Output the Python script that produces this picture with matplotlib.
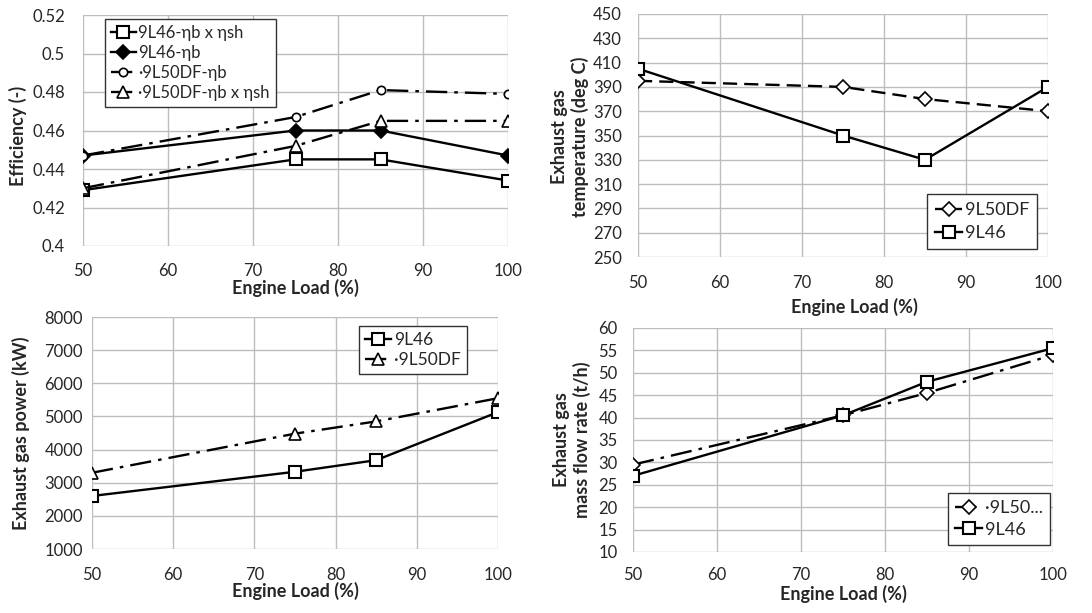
import matplotlib
matplotlib.use("Agg")
import matplotlib.pyplot as plt

plt.rcParams['font.family'] = ['Lato', 'DejaVu Sans']

load = [50, 75, 85, 100]

# Panel 1: efficiency
eff_9l46_bsh = [0.429, 0.445, 0.445, 0.434]
eff_9l46_b = [0.447, 0.460, 0.460, 0.447]
eff_9l50_b = [0.447, 0.467, 0.481, 0.479]
eff_9l50_bsh = [0.430, 0.452, 0.465, 0.465]

# Panel 2: exhaust gas temperature
temp_9l50 = [395, 390, 380, 370]
temp_9l46 = [405, 350, 330, 390]

# Panel 3: exhaust gas power
pow_9l46 = [2600, 3330, 3680, 5130]
pow_9l50 = [3300, 4480, 4850, 5550]

# Panel 4: exhaust mass flow
flow_9l50 = [29.5, 40.5, 45.5, 54.0]
flow_9l46 = [27.0, 40.5, 48.0, 55.5]

TXT = '#262626'
GRID = '#bdbdbd'
DASHDOT = (0, (9, 3, 1.5, 3))
DASH = (0, (6, 3))
W, H = 1092, 613

fig = plt.figure(figsize=(10.92, 6.13), dpi=100)

def px(x, y):
    return x / W, 1 - y / H

def make_ax(l, t, r, b):
    return fig.add_axes([l / W, 1 - b / H, (r - l) / W, (b - t) / H])

def style(ax, ylim, yticks, xpad, ypad, yfmt=None):
    ax.set_xlim(50, 100)
    ax.set_xticks([50, 60, 70, 80, 90, 100])
    ax.set_ylim(*ylim)
    ax.set_yticks(yticks)
    if yfmt:
        ax.set_yticklabels([yfmt(v) for v in yticks])
    for s in ax.spines.values():
        s.set_visible(False)
    ax.grid(True, color=GRID, linewidth=1.0)
    ax.set_axisbelow(True)
    ax.tick_params(length=0, labelsize=12, colors=TXT)
    ax.tick_params(axis='x', pad=xpad)
    ax.tick_params(axis='y', pad=ypad)

def labels(ax, xl, xlpos, yl, ylpos):
    ax.set_xlabel(xl, fontsize=13, fontweight='bold', color=TXT, va='center', ha='center')
    ax.xaxis.set_label_coords(*px(*xlpos), transform=fig.transFigure)
    ax.set_ylabel(yl, fontsize=13, fontweight='bold', color=TXT, va='center', ha='center',
                  linespacing=1.25)
    ax.yaxis.set_label_coords(*px(*ylpos), transform=fig.transFigure)

def legend(ax, xy, fs=12.5, pad=0.35, spacing=0.25):
    leg = ax.legend(loc='upper left', bbox_to_anchor=px(*xy), bbox_transform=fig.transFigure,
                    fancybox=False, framealpha=1, edgecolor='#333333', fontsize=fs,
                    handlelength=1.5, handletextpad=0.15, borderpad=pad, labelspacing=spacing,
                    borderaxespad=0)
    leg.get_frame().set_linewidth(1.0)
    for t in leg.get_texts():
        t.set_color(TXT)
    return leg

lw = 1.7
SQ = 9

# Panel 1
ax1 = make_ax(83, 15, 508, 246)
style(ax1, (0.4, 0.52), [0.4, 0.42, 0.44, 0.46, 0.48, 0.5, 0.52], 12, 13,
      lambda v: ('%g' % v))
ax1.plot(load, eff_9l46_bsh, color='black', lw=lw, marker='s', ms=SQ, mfc='white', mew=1.5,
         label='9L46-ηb x ηsh', zorder=3)
ax1.plot(load, eff_9l46_b, color='black', lw=lw, marker='D', ms=7, mfc='black', mew=1.2,
         label='9L46-ηb', zorder=3)
ax1.plot(load, eff_9l50_b, color='black', lw=lw, ls=DASHDOT, marker='o', ms=6, mfc='white', mew=1.2,
         label='·9L50DF-ηb', zorder=3)
ax1.plot(load, eff_9l50_bsh, color='black', lw=lw, ls=DASHDOT, marker='^', ms=8, mfc='white', mew=1.2,
         label='·9L50DF-ηb x ηsh', zorder=3)
labels(ax1, 'Engine Load (%)', (295, 288), 'Efficiency (-)', (18, 136))
legend(ax1, (105, 19), fs=12)

# Panel 2
ax2 = make_ax(638, 14, 1048, 257)
style(ax2, (250, 450), list(range(250, 451, 20)), 13, 11.5)
ax2.plot(load, temp_9l50, color='black', lw=lw, ls=DASH, marker='D', ms=7, mfc='white', mew=1.2,
         label='9L50DF', zorder=3)
ax2.plot(load, temp_9l46, color='black', lw=lw, marker='s', ms=SQ, mfc='white', mew=1.5,
         label='9L46', zorder=3)
labels(ax2, 'Engine Load (%)', (854, 307), 'Exhaust gas\ntemperature (deg C)', (570, 137))
legend(ax2, (927, 194), fs=13, pad=0.45, spacing=0.4)

# Panel 3
ax3 = make_ax(92, 317, 498, 549)
style(ax3, (1000, 8000), list(range(1000, 8001, 1000)), 13, 6.5)
ax3.plot(load, pow_9l46, color='black', lw=lw, marker='s', ms=SQ, mfc='white', mew=1.5,
         label='9L46', zorder=3)
ax3.plot(load, pow_9l50, color='black', lw=lw, ls=DASHDOT, marker='^', ms=9, mfc='white', mew=1.2,
         label='·9L50DF', zorder=3)
labels(ax3, 'Engine Load (%)', (295, 591), 'Exhaust gas power (kW)', (21, 433))
legend(ax3, (359, 326), fs=12.5)

# Panel 4
ax4 = make_ax(633, 328, 1053, 552)
style(ax4, (10, 60), list(range(10, 61, 5)), 11, 11)
ax4.plot(load, flow_9l50, color='black', lw=lw, ls=DASHDOT, marker='D', ms=7, mfc='white', mew=1.2,
         label='·9L50...', zorder=3)
ax4.plot(load, flow_9l46, color='black', lw=lw, marker='s', ms=SQ, mfc='white', mew=1.5,
         label='9L46', zorder=3)
labels(ax4, 'Engine Load (%)', (843, 594), 'Exhaust gas\nmass flow rate (t/h)', (572, 440))
legend(ax4, (948, 493), fs=13, pad=0.4, spacing=0.3)

fig.savefig('out.png', dpi=100, facecolor='white')
